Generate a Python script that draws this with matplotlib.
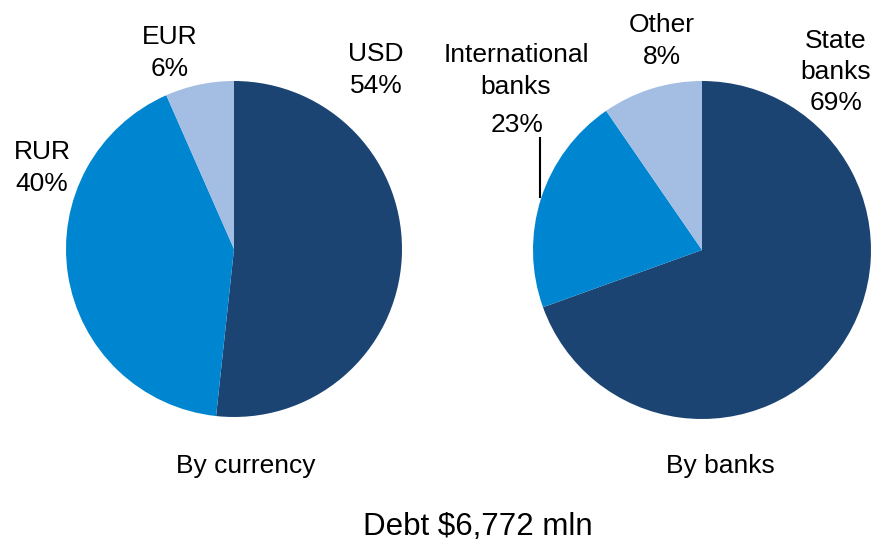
import matplotlib.pyplot as plt

plt.rcParams['font.family'] = ['Liberation Sans', 'DejaVu Sans']

# By currency
cur_names = ['USD', 'RUR', 'EUR']
cur_labels = ['54%', '40%', '6%']
cur_values = [51.7, 41.7, 6.6]   # slice sizes as drawn

# By banks
bank_names = ['State\nbanks', 'International\nbanks', 'Other']
bank_labels = ['69%', '23%', '8%']
bank_values = [69.5, 20.9, 9.6]

colors = ['#1c4473', '#0086d1', '#a3bde3']

fig = plt.figure(figsize=(8.77, 5.43), dpi=100)
ax = fig.add_axes([0, 0, 1, 1])

H = 543
ax.pie(cur_values, colors=colors, startangle=90, counterclock=False,
       center=(234, H - 249), radius=168, frame=True)
ax.pie(bank_values, colors=colors, startangle=90, counterclock=False,
       center=(702, H - 250), radius=169, frame=True)
ax.set_xlim(0, 877)
ax.set_ylim(0, 543)
ax.set_aspect('equal')
ax.axis('off')

fs = 19
kw = dict(ha='center', va='center', fontsize=fs, linespacing=1.38)
ax.text(376, H - 70, cur_names[0] + '\n' + cur_labels[0], **kw)
ax.text(42, H - 168, cur_names[1] + '\n' + cur_labels[1], **kw)
ax.text(170, H - 53, cur_names[2] + '\n' + cur_labels[2], **kw)

ax.text(836, H - 72, bank_names[0] + '\n' + bank_labels[0], **kw)
ax.text(516, H - 71, bank_names[1], **kw)
ax.text(517, H - 125, bank_labels[1], **kw)
ax.text(662, H - 41, bank_names[2] + '\n' + bank_labels[2], **kw)
ax.plot([540, 540], [H - 138, H - 197], color='black', lw=1.5)

ax.text(246, H - 466, 'By currency', ha='center', va='center', fontsize=fs)
ax.text(720, H - 466, 'By banks', ha='center', va='center', fontsize=fs)
ax.text(478, H - 527, 'Debt $6,772 mln', ha='center', va='center', fontsize=22.5)

fig.savefig('out.png', dpi=100)
